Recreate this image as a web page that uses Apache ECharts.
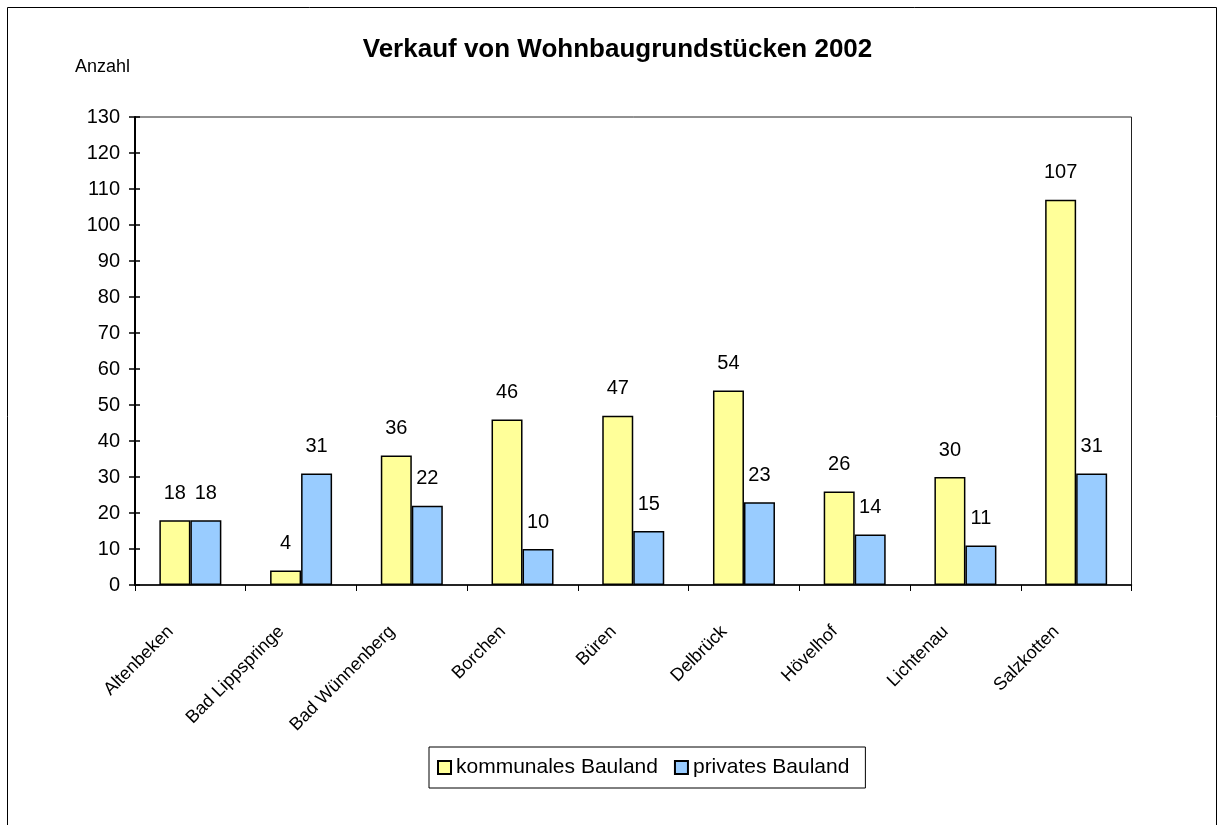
<!DOCTYPE html>
<html>
<head>
<meta charset="utf-8">
<script src="https://cdn.jsdelivr.net/npm/echarts@6/dist/echarts.min.js"></script>
<style>
html,body{margin:0;padding:0;background:#fff;}
#chart{width:1223px;height:825px;}
</style>
</head>
<body>
<div id="chart"></div>
<script>
const categories = ['Altenbeken','Bad Lippspringe','Bad Wünnenberg','Borchen','Büren','Delbrück','Hövelhof','Lichtenau','Salzkotten'];
const kommunal = [18, 4, 36, 46, 47, 54, 26, 30, 107];
const privat = [18, 31, 22, 10, 15, 23, 14, 11, 31];
const seriesNames = ['kommunales Bauland', 'privates Bauland'];
const titleText = 'Verkauf von Wohnbaugrundstücken 2002';
const yAxisName = 'Anzahl';

const FONT = '"Liberation Sans", Arial, sans-serif';
const chart = echarts.init(document.getElementById('chart'), null, {renderer: 'canvas'});

const labelCfg = {show: true, position: 'top', distance: 17, color: '#000', fontSize: 20, fontFamily: FONT};

chart.setOption({
  animation: false,
  backgroundColor: '#fff',
  title: {
    text: titleText, left: 612.5, top: 32, textAlign: 'center',
    textStyle: {fontFamily: FONT, fontSize: 26, fontWeight: 'bold', color: '#000'}
  },
  graphic: [
    {type: 'rect', shape: {x: 7.5, y: 7.5, width: 1209, height: 840}, style: {fill: 'none', stroke: '#000', lineWidth: 1}, silent: true},
    {type: 'text', left: 75, top: 58, style: {text: yAxisName, fontFamily: FONT, fontSize: 18, fill: '#000'}}
  ],
  legend: {
    data: seriesNames, left: 429, top: 747, orient: 'horizontal',
    padding: [10, 16, 10, 8], itemWidth: 13, itemHeight: 13, itemGap: 16,
    borderColor: '#000', borderWidth: 1, icon: 'rect',
    textStyle: {fontFamily: FONT, fontSize: 21, color: '#000'}
  },
  grid: {left: 135, top: 117, right: 91.5, bottom: 240, show: true, borderColor: '#222', borderWidth: 1},
  xAxis: {
    type: 'category', data: categories,
    axisLine: {lineStyle: {color: '#000', width: 1.5}},
    axisTick: {show: true, length: 6, lineStyle: {color: '#000'}},
    axisLabel: {rotate: 45, interval: 0, margin: 24, padding: [0, 28, 0, 0], fontFamily: FONT, fontSize: 18, color: '#000'}
  },
  yAxis: [{
    type: 'value', min: 0, max: 130, interval: 10,
    axisLine: {show: true, lineStyle: {color: '#000', width: 2}},
    axisTick: {show: true, length: 6, lineStyle: {color: '#000', width: 1.5}},
    splitLine: {show: false},
    axisLabel: {margin: 15, fontFamily: FONT, fontSize: 20, color: '#000'}
  }, {
    type: 'value', min: 0, max: 130, interval: 10, position: 'left',
    axisLine: {show: false},
    axisTick: {show: true, inside: true, length: 5, lineStyle: {color: '#000', width: 1.5}},
    splitLine: {show: false},
    axisLabel: {show: false}
  }],
  series: [{
    name: seriesNames[0], type: 'bar', data: kommunal, barWidth: 31, barGap: '0%',
    itemStyle: {color: '#FFFF99', borderColor: '#000', borderWidth: 1.5},
    label: labelCfg
  }, {
    name: seriesNames[1], type: 'bar', data: privat, barWidth: 31, barGap: '0%',
    itemStyle: {color: '#99CCFF', borderColor: '#000', borderWidth: 1.5},
    label: labelCfg
  }]
});
</script>
</body>
</html>
